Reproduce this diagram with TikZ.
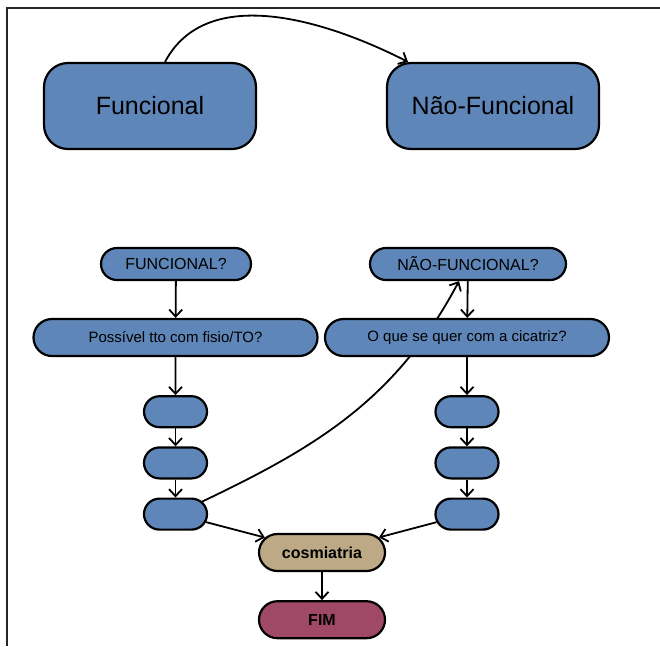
\documentclass[tikz,border=0pt]{standalone}
\usepackage{fontspec}
\setmainfont{Liberation Sans}
\usetikzlibrary{arrows.meta,positioning,shapes.misc,backgrounds}
\definecolor{flowblue}{HTML}{5F86B8}
\definecolor{flowtan}{HTML}{BDA986}
\definecolor{flowwine}{HTML}{A04966}

\tikzset{
  bigbox/.style={draw, line width=2.2pt, fill=flowblue, rounded corners=24pt,
    minimum width=212pt, minimum height=86pt, font=\fontsize{25}{30}\selectfont},
  pill/.style={rounded rectangle, draw, line width=2.2pt, fill=flowblue,
    inner sep=0pt, minimum height=32pt, font=\fontsize{16}{19}\selectfont},
  widepill/.style={pill, minimum width=284pt, minimum height=37pt,
    font=\fontsize{15}{18}\selectfont},
  stepbox/.style={pill, minimum width=63pt, minimum height=31pt},
  endbox/.style={pill, minimum width=126pt, minimum height=37pt,
    font=\fontsize{16}{19}\selectfont\bfseries},
  link/.style={-{Straight Barb[length=7pt,width=13pt,line width=1.8pt]}, line width=1.8pt},
  frame/.style={line width=1.6pt, draw=black!85},
}

\begin{document}
\begin{tikzpicture}[x=1pt, y=-1pt]
  \useasboundingbox (0,0) rectangle (660,646);
  \draw[frame] (7,646) -- (7,8) -- (660,8);

  % top row
  \node[bigbox] (func) at (150,106) {Funcional};
  \node[bigbox] (nfunc) at (493,106) {Não-Funcional};
  \draw[link] ([xshift=15pt]func.north) to[out=62, in=153, looseness=0.95] ([xshift=-85pt]nfunc.north);

  % questions
  \node[pill, minimum width=150pt] (qfunc) at (176,264) {FUNCIONAL?};
  \node[pill, minimum width=196pt] (qnfunc) at (468,264) {NÃO-FUNCIONAL?};
  \node[widepill] (tto) at (175.5,337.5) {Possível tto com fisio/TO?};
  \node[widepill] (cicatriz) at (467,337.5) {O que se quer com a cicatriz?};

  % left steps
  \node[stepbox, below=38pt of tto] (left1) {};
  \node[stepbox, below=18pt of left1] (left2) {};
  \node[stepbox, below=18pt of left2] (left3) {};
  % right steps
  \node[stepbox, below=38pt of cicatriz] (right1) {};
  \node[stepbox, below=18pt of right1] (right2) {};
  \node[stepbox, below=18pt of right2] (right3) {};

  \node[endbox, fill=flowtan] (cosm) at (322,552.5) {cosmiatria};
  \node[endbox, fill=flowwine, below=28pt of cosm] (fim) {FIM};

  \draw[link] (qfunc) -- (tto);
  \draw[link] (tto) -- (left1);
  \draw[link] (left1) -- (left2);
  \draw[link] (left2) -- (left3);
  \draw[link] (qnfunc) -- (cicatriz);
  \draw[link] (cicatriz) -- (right1);
  \draw[link] (right1) -- (right2);
  \draw[link] (right2) -- (right3);
  \draw[link] (left3) -- (cosm);
  \draw[link] (right3) -- (cosm);
  \draw[link] (cosm) -- (fim);

  % back to the other branch, behind the boxes
  \begin{scope}[on background layer]
    \draw[link] (left3.center) to[out=25, in=-118] ([xshift=-9pt]qnfunc.south);
  \end{scope}
\end{tikzpicture}
\end{document}
